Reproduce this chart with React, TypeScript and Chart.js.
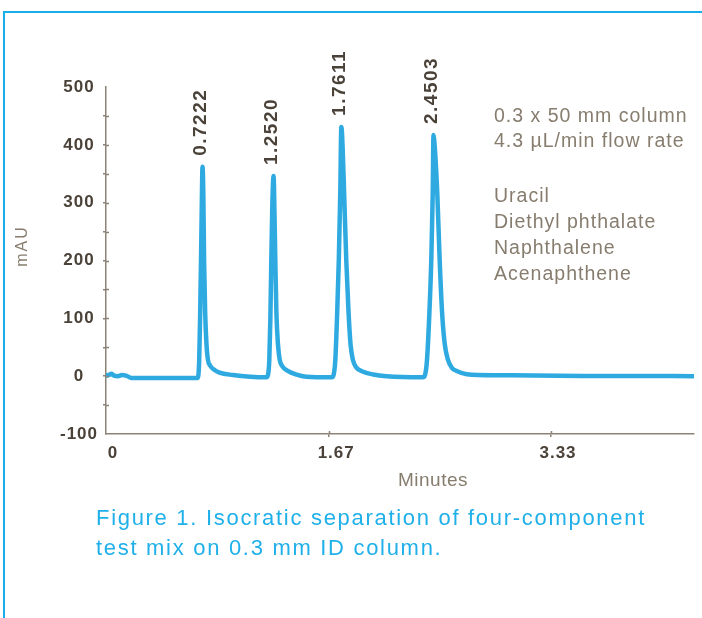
import React, { useEffect, useRef } from 'react';
import { Chart, registerables } from 'chart.js';

Chart.register(...registerables);

// ---- data ----
const timeMin = [
  0, 0.02, 0.04, 0.06, 0.09, 0.12, 0.15, 0.19, 0.40, 0.60, 0.685,
  0.697, 0.704, 0.711, 0.717, 0.7222, 0.728, 0.734, 0.742, 0.752, 0.763, 0.78, 0.81, 0.85, 0.95, 1.08, 1.20,
  1.212, 1.222, 1.23, 1.237, 1.245, 1.254, 1.261, 1.267, 1.275, 1.287, 1.30, 1.32, 1.36, 1.42, 1.50, 1.69,
  1.703, 1.716, 1.73, 1.742, 1.753, 1.7611, 1.770, 1.782, 1.798, 1.815, 1.83, 1.848, 1.87, 1.92, 2.00, 2.10, 2.37,
  2.387, 2.402, 2.42, 2.434, 2.445, 2.4503, 2.462, 2.479, 2.497, 2.515, 2.535, 2.559, 2.59, 2.624, 2.70, 2.94, 3.57, 3.94, 4.40,
];
const signalMAU = [
  1, 2, 4, 1, 0, 2, 1, -3, -3, -3, -3,
  25, 100, 200, 300, 362, 320, 200, 110, 55, 28, 18, 11, 6, 2, -1, -2,
  2, 28, 100, 200, 300, 346, 280, 200, 110, 55, 28, 17, 9, 3, -1, -2,
  2, 28, 110, 200, 316, 431, 400, 316, 200, 110, 55, 28, 16, 8, 3, 0, -2,
  2, 28, 110, 200, 316, 417, 390, 316, 200, 110, 55, 28, 14, 9, 3.5, 1.7, 0.5, 0.5, 0,
];

const peakTimes = [0.7222, 1.252, 1.7611, 2.4503];
const peakHeights = [362, 346, 431, 417];
const peakLabels = ['0.7222', '1.2520', '1.7611', '2.4503'];

const xTickValues = [0, 1.67, 3.33];
const xTickLabels = ['0', '1.67', '3.33'];
const yMajorTicks = [-100, 0, 100, 200, 300, 400, 500];
const yMinorTicks = [-50, 50, 150, 250, 350, 450];

const xAxisTitle = 'Minutes';
const yAxisTitle = 'mAU';
const conditionLines = ['0.3 x 50 mm column', '4.3 µL/min flow rate'];
const compoundNames = ['Uracil', 'Diethyl phthalate', 'Naphthalene', 'Acenaphthene'];
const captionLines = [
  'Figure 1. Isocratic separation of four-component',
  'test mix on 0.3 mm ID column.',
];

// ---- styles ----
const AXIS = '#8c8376';
const DARK = '#4a4239';
const GREY = '#877d6f';
const TRACE = '#2eaae1';
const FRAME = '#17aeea';
const CAPTION = '#1fb0ea';
const FONT = "'Liberation Sans', Arial, Helvetica, sans-serif";

const annotations = {
  id: 'annotations',
  beforeLayout(chart: any) {
    chart.ctx.letterSpacing = '1px';
  },
  beforeDraw(chart: any) {
    chart.ctx.letterSpacing = '1px';
  },
  afterDraw(chart: any) {
    const ctx = chart.ctx as CanvasRenderingContext2D;
    const xs = chart.scales.x;
    const ys = chart.scales.y;
    const area = chart.chartArea;
    ctx.save();

    // inner halves of tick marks (ticks cross the axis lines)
    ctx.strokeStyle = AXIS;
    ctx.lineWidth = 1.5;
    ctx.beginPath();
    [...yMajorTicks, ...yMinorTicks].forEach((v) => {
      if (v === 500 || v === -100) return;
      const py = Math.round(ys.getPixelForValue(v)) + 0.5;
      ctx.moveTo(area.left, py);
      ctx.lineTo(area.left + 3, py);
    });
    xTickValues.forEach((v) => {
      if (v === 0) return;
      const px = Math.round(xs.getPixelForValue(v)) + 0.5;
      ctx.moveTo(px, area.bottom);
      ctx.lineTo(px, area.bottom - 3);
    });
    ctx.stroke();

    // peak retention-time labels
    ctx.fillStyle = DARK;
    ctx.font = `bold 19px ${FONT}`;
    ctx.letterSpacing = '1.5px';
    ctx.textAlign = 'left';
    ctx.textBaseline = 'middle';
    peakTimes.forEach((t, i) => {
      const px = xs.getPixelForValue(t) - 2;
      const py = ys.getPixelForValue(peakHeights[i]) - 11;
      ctx.save();
      ctx.translate(px, py);
      ctx.rotate(-Math.PI / 2);
      ctx.fillText(peakLabels[i], 0, 0);
      ctx.restore();
    });

    // axis titles
    ctx.fillStyle = GREY;
    ctx.font = `16px ${FONT}`;
    ctx.letterSpacing = '2px';
    ctx.textAlign = 'center';
    ctx.textBaseline = 'middle';
    ctx.save();
    ctx.translate(23, 246);
    ctx.rotate(-Math.PI / 2);
    ctx.fillText(yAxisTitle, 0, 0);
    ctx.restore();

    ctx.font = `19px ${FONT}`;
    ctx.letterSpacing = '0.5px';
    ctx.textBaseline = 'alphabetic';
    ctx.fillText(xAxisTitle, 433, 486);

    // conditions and compound list
    ctx.textAlign = 'left';
    ctx.font = `19.5px ${FONT}`;
    ctx.letterSpacing = '1px';
    const condBase = [122, 147];
    conditionLines.forEach((s, i) => ctx.fillText(s, 494, condBase[i]));
    const compBase = [202, 228, 254, 280];
    compoundNames.forEach((s, i) => ctx.fillText(s, 494, compBase[i]));

    // caption
    ctx.fillStyle = CAPTION;
    ctx.font = `22px ${FONT}`;
    ctx.letterSpacing = '1.7px';
    const capBase = [525, 555];
    captionLines.forEach((s, i) => ctx.fillText(s, 96, capBase[i]));

    ctx.restore();
  },
};

export default function App() {
  const ref = useRef<HTMLCanvasElement | null>(null);

  useEffect(() => {
    document.body.style.margin = '0';
    const canvas = ref.current;
    if (!canvas) return;
    const points = timeMin.map((t, i) => ({ x: t, y: signalMAU[i] }));
    const chart = new Chart(canvas, {
      type: 'line',
      data: {
        datasets: [
          {
            data: points,
            borderColor: TRACE,
            borderWidth: 4.5,
            pointRadius: 0,
            cubicInterpolationMode: 'monotone',
            borderJoinStyle: 'round',
            borderCapStyle: 'round',
            fill: false,
          },
        ],
      },
      options: {
        animation: false,
        responsive: false,
        devicePixelRatio: 1,
        events: [],
        layout: { padding: { left: 0, top: 87, right: 8, bottom: 134 } },
        plugins: {
          legend: { display: false },
          tooltip: { enabled: false },
          title: { display: false },
        },
        scales: {
          x: {
            type: 'linear',
            min: 0,
            max: 4.4,
            afterBuildTicks: (s: any) => {
              s.ticks = xTickValues.map((v) => ({ value: v }));
            },
            afterFit: (s: any) => {
              s.height = 50;
            },
            border: { display: true, color: AXIS, width: 1.5 },
            grid: {
              display: true,
              drawOnChartArea: false,
              drawTicks: true,
              tickLength: 3,
              lineWidth: 1.5,
              color: (c: any) => (c.tick && c.tick.value === 0 ? 'rgba(0,0,0,0)' : AXIS),
            },
            ticks: {
              autoSkip: false,
              maxRotation: 0,
              padding: 6,
              labelOffset: 7,
              color: DARK,
              font: { family: FONT, size: 17, weight: 'bold' },
              callback: (v: any) => {
                const i = xTickValues.indexOf(Number(v));
                return i >= 0 ? xTickLabels[i] : '';
              },
            },
          },
          y: {
            type: 'linear',
            min: -100,
            max: 500,
            afterBuildTicks: (s: any) => {
              s.ticks = [...yMajorTicks, ...yMinorTicks]
                .sort((a, b) => a - b)
                .map((v) => ({ value: v }));
            },
            afterFit: (s: any) => {
              s.width = 106;
            },
            border: { display: true, color: AXIS, width: 1.5 },
            grid: {
              display: true,
              drawOnChartArea: false,
              drawTicks: true,
              tickLength: 3,
              lineWidth: 1.5,
              color: (c: any) =>
                c.tick && (c.tick.value === 500 || c.tick.value === -100) ? 'rgba(0,0,0,0)' : AXIS,
            },
            ticks: {
              autoSkip: false,
              crossAlign: 'center',
              padding: 5,
              color: DARK,
              font: { family: FONT, size: 17, weight: 'bold' },
              callback: (v: any) => (yMajorTicks.includes(Number(v)) ? String(v) : ''),
            },
          },
        },
      },
      plugins: [annotations],
    } as any);
    return () => chart.destroy();
  }, []);

  return (
    <div style={{ position: 'relative', width: 702, height: 618, overflow: 'hidden', background: '#fff' }}>
      <div
        style={{
          position: 'absolute',
          left: 3,
          top: 11,
          right: 0,
          bottom: 0,
          borderTop: `2.5px solid ${FRAME}`,
          borderLeft: `2.5px solid ${FRAME}`,
        }}
      />
      <canvas ref={ref} width={702} height={618} style={{ position: 'absolute', left: 0, top: 0, width: 702, height: 618 }} />
    </div>
  );
}
